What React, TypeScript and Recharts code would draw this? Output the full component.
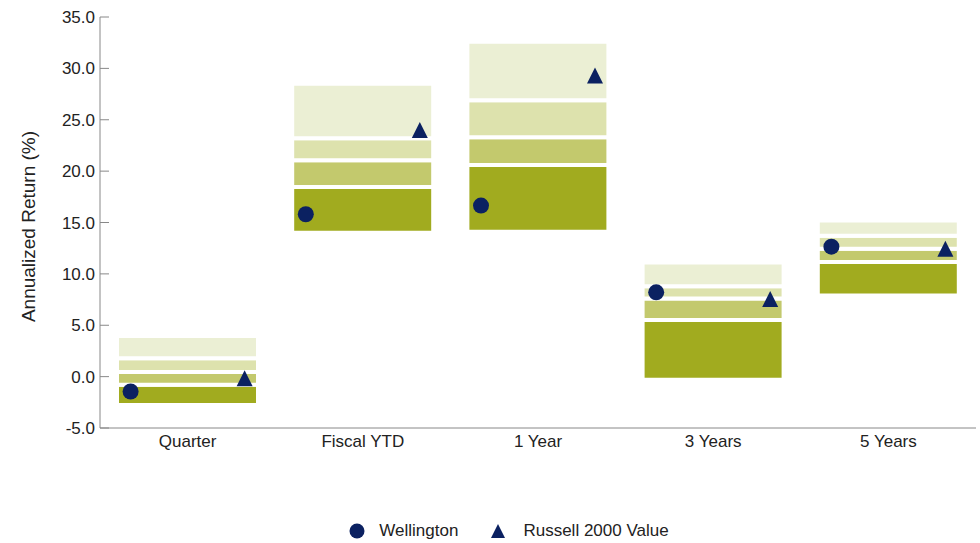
import { Bar, ComposedChart, Label, Legend, Scatter, XAxis, YAxis } from "recharts";

const categories = ["Quarter", "Fiscal YTD", "1 Year", "3 Years", "5 Years"];
// peer universe percentiles (5th = top of band, 95th = bottom)
const p5 = [3.95, 28.5, 32.6, 11.1, 15.2];
const p25 = [1.8, 23.2, 26.9, 8.8, 13.7];
const p50 = [0.45, 21.05, 23.3, 7.6, 12.45];
const p75 = [-0.8, 18.45, 20.6, 5.5, 11.15];
const p95 = [-2.75, 14.0, 14.1, -0.3, 7.9];
const wellington = [-1.45, 15.8, 16.65, 8.2, 12.65];
const russell = [-0.15, 24.0, 29.3, 7.55, 12.45];
const yTicks = [-5, 0, 5, 10, 15, 20, 25, 30, 35];

const data = categories.map((name, i) => ({
  name,
  base: p95[i],
  b1: p75[i] - p95[i],
  b2: p50[i] - p75[i],
  b3: p25[i] - p50[i],
  b4: p5[i] - p25[i],
  wellington: wellington[i],
  russell: russell[i],
}));

const NAVY = "#0b2161";
const FONT = "'Liberation Sans', Arial, sans-serif";
const OFFSET = 57;

const YTick = (props: any) => {
  const { x, y, payload } = props;
  return (
    <g>
      <line x1={x + 5} x2={x + 14} y1={y} y2={y} stroke="#888" />
      <text x={x} y={y} dy="0.355em" textAnchor="end" fontSize={17} fill="#222" fontFamily={FONT}>
        {Number(payload.value).toFixed(1)}
      </text>
    </g>
  );
};

const Dot = (props: any) => <circle cx={props.cx - OFFSET} cy={props.cy} r={8} fill={NAVY} />;

const Tri = (props: any) => {
  const cx = props.cx + OFFSET;
  const cy = props.cy;
  return <polygon points={`${cx},${cy - 8} ${cx + 8},${cy + 8} ${cx - 8},${cy + 8}`} fill={NAVY} />;
};

const LegendContent = () => (
  <div
    style={{
      display: "flex",
      justifyContent: "center",
      alignItems: "center",
      height: 24,
      paddingLeft: 42,
      fontFamily: FONT,
      fontSize: 17,
      color: "#222",
    }}
  >
    <svg width={16} height={16}>
      <circle cx={8} cy={8} r={7.5} fill={NAVY} />
    </svg>
    <span style={{ marginLeft: 14 }}>Wellington</span>
    <svg width={16} height={16} style={{ marginLeft: 32 }}>
      <polygon points="8,1 15,15 1,15" fill={NAVY} />
    </svg>
    <span style={{ marginLeft: 17 }}>Russell 2000 Value</span>
  </div>
);

export default function App() {
  return (
    <div style={{ position: "absolute", left: 0, top: 0, background: "#fff" }}>
      <ComposedChart
        width={980}
        height={543}
        data={data}
        margin={{ top: 17, right: 4, left: 0, bottom: 0 }}
      >
        <XAxis
          dataKey="name"
          height={91}
          tickLine={false}
          tickSize={0}
          tickMargin={7}
          axisLine={{ stroke: "#888" }}
          tick={{ fontSize: 17, fill: "#222", fontFamily: FONT }}
        />
        <XAxis xAxisId="top" dataKey="name" orientation="top" height={0} tick={false} tickLine={false} axisLine={{ stroke: "#707070" }} />
        <YAxis
          domain={[-5, 35]}
          ticks={yTicks}
          width={100}
          tickSize={0}
          tickMargin={5}
          tickLine={false}
          axisLine={{ stroke: "#888" }}
          tick={<YTick />}
          allowDataOverflow
        >
          <Label
            content={(p: any) => {
              const vb = p.viewBox || { x: 0, y: 17, width: 100, height: 411 };
              const cx = vb.x + 28;
              const cy = vb.y + vb.height / 2 + 4;
              return (
                <text
                  x={cx}
                  y={cy}
                  transform={`rotate(-90, ${cx}, ${cy})`}
                  textAnchor="middle"
                  dy="0.355em"
                  fontSize={19}
                  fill="#222"
                  fontFamily={FONT}
                >
                  Annualized Return (%)
                </text>
              );
            }}
          />
        </YAxis>
        <YAxis yAxisId="right" orientation="right" width={0} domain={[-5, 35]} tick={false} tickLine={false} axisLine={{ stroke: "#707070" }} />
        <Legend verticalAlign="bottom" content={<LegendContent />} />
        <Bar dataKey="base" stackId="r" fill="transparent" barSize={141} isAnimationActive={false} />
        <Bar dataKey="b1" stackId="r" fill="#a1ab1f" stroke="#fff" strokeWidth={4} isAnimationActive={false} />
        <Bar dataKey="b2" stackId="r" fill="#c3c96d" stroke="#fff" strokeWidth={4} isAnimationActive={false} />
        <Bar dataKey="b3" stackId="r" fill="#dde2ad" stroke="#fff" strokeWidth={4} isAnimationActive={false} />
        <Bar dataKey="b4" stackId="r" fill="#ebefd4" stroke="#fff" strokeWidth={4} isAnimationActive={false} />
        <Scatter dataKey="wellington" shape={<Dot />} isAnimationActive={false} />
        <Scatter dataKey="russell" shape={<Tri />} isAnimationActive={false} />
      </ComposedChart>
    </div>
  );
}
